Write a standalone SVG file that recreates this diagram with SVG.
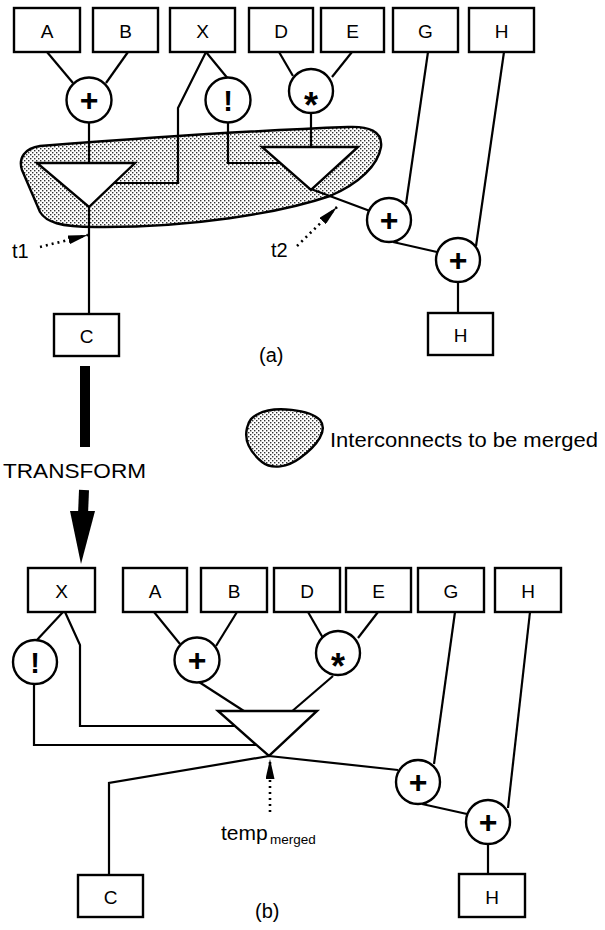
<svg xmlns="http://www.w3.org/2000/svg" width="605" height="930" viewBox="0 0 605 930">
<defs>
<pattern id="dots" width="4" height="4" patternUnits="userSpaceOnUse">
<rect width="4" height="4" fill="#fff"/>
<rect x="0" y="0" width="1.4" height="1.4" fill="#333"/>
<rect x="2" y="2" width="1.4" height="1.4" fill="#333"/>
</pattern>
<marker id="ah" viewBox="0 0 20 9" refX="20" refY="4.5" markerWidth="20" markerHeight="9" markerUnits="userSpaceOnUse" orient="auto"><path d="M0,0 L20,4.5 L0,9 Z" fill="#000"/></marker>
<style>
.box{fill:#fff;stroke:#000;stroke-width:2.4}
.op{fill:#fff;stroke:#000;stroke-width:2.4}
.tri{fill:#fff;stroke:#000;stroke-width:2.4;stroke-linejoin:miter}
.ln{fill:none;stroke:#000;stroke-width:2.2;stroke-linejoin:miter}
.dot{fill:none;stroke:#000;stroke-width:2.6;stroke-dasharray:2 4}
.blob{fill:url(#dots);stroke:#000;stroke-width:2.4}
.lbl{font-family:"Liberation Sans",Arial,sans-serif;font-size:19px;text-anchor:middle;fill:#000}
.sym{font-family:"Liberation Sans",Arial,sans-serif;font-weight:bold;text-anchor:middle;fill:#000}
.txt{font-family:"Liberation Sans",Arial,sans-serif;fill:#000}
</style>
</defs>
<rect width="605" height="930" fill="#fff"/>

<g id="merge-region">
<path class="blob" d="M40,146 C25,148 18,158 22,170 L40,212 C46,222 60,227 95,227 C190,228 280,213 330,196 C360,183 378,165 381,147 C383,131 368,126 348,127 C240,131 130,139 40,146 Z"/>
</g>

<g id="connectors">
<path class="ln" d="M47,52 L73,83"/>
<path class="ln" d="M128,52 L106,83"/>
<path class="ln" d="M89,122 L89,170"/>
<path class="ln" d="M206,52 L178,108 L178,183 L110,183"/>
<path class="ln" d="M206,52 L229,80"/>
<path class="ln" d="M228,122 L228,163 L290,163"/>
<path class="ln" d="M279,52 L293,76"/>
<path class="ln" d="M352,52 L332,77"/>
<path class="ln" d="M311,113 L311,150"/>
<path class="ln" d="M89,205 L89,314"/>
<path class="ln" d="M311,189 L370,211"/>
<path class="ln" d="M428,52 L406,204"/>
<path class="ln" d="M393,242 L437,252"/>
<path class="ln" d="M504,52 L476,246"/>
<path class="ln" d="M458,282 L458,313"/>

<path class="ln" d="M63,612 L36,641"/>
<path class="ln" d="M65,612 L80,645 L80,726 L240,726"/>
<path class="ln" d="M34,684 L34,745 L258,745"/>
<path class="ln" d="M154,612 L180,644"/>
<path class="ln" d="M237,612 L216,646"/>
<path class="ln" d="M199,682 L247,713"/>
<path class="ln" d="M308,612 L323,638"/>
<path class="ln" d="M378,612 L358,638"/>
<path class="ln" d="M333,676 L290,713"/>
<path class="ln" d="M269,756 L109,783 L109,875"/>
<path class="ln" d="M269,756 L398,770"/>
<path class="ln" d="M455,612 L434,764"/>
<path class="ln" d="M422,804 L467,814"/>
<path class="ln" d="M530,612 L508,808"/>
<path class="ln" d="M488,844 L488,874"/>

<path class="dot" d="M40,247 L88,235" marker-end="url(#ah)"/>
<path class="dot" d="M297,246 L337,207" marker-end="url(#ah)"/>
<path class="dot" d="M270,812 L270,759" marker-end="url(#ah)"/>

<path d="M85,366 L85,447" stroke="#000" stroke-width="10" fill="none"/>
<path d="M84,490 L83,515" stroke="#000" stroke-width="10" fill="none"/>
<polygon points="70,511 95,511 81,564" fill="#000"/>
</g>

<g id="a-A"><rect class="box" x="14" y="8" width="66" height="44"/><text class="lbl" x="47" y="38">A</text></g>
<g id="a-B"><rect class="box" x="93" y="8" width="65" height="44"/><text class="lbl" x="125.5" y="38">B</text></g>
<g id="a-X"><rect class="box" x="170" y="8" width="65" height="44"/><text class="lbl" x="202.5" y="38">X</text></g>
<g id="a-D"><rect class="box" x="249" y="8" width="64" height="44"/><text class="lbl" x="281" y="38">D</text></g>
<g id="a-E"><rect class="box" x="321" y="8" width="63" height="44"/><text class="lbl" x="352.5" y="38">E</text></g>
<g id="a-G"><rect class="box" x="393" y="8" width="65" height="44"/><text class="lbl" x="425.5" y="38">G</text></g>
<g id="a-H"><rect class="box" x="469" y="8" width="65" height="44"/><text class="lbl" x="501.5" y="38">H</text></g>
<g id="a-C"><rect class="box" x="54" y="314" width="65" height="42"/><text class="lbl" x="86.5" y="343">C</text></g>
<g id="a-Hout"><rect class="box" x="428" y="313" width="65" height="42"/><text class="lbl" x="460.5" y="342">H</text></g>

<g id="a-plus1"><circle class="op" cx="89" cy="100" r="22.5"/><text class="sym" x="89" y="111" font-size="32">+</text></g>
<g id="a-excl"><circle class="op" cx="228" cy="100" r="22.5"/><text class="sym" x="228" y="111" font-size="29">!</text></g>
<g id="a-star"><circle class="op" cx="311" cy="91" r="22"/><text class="sym" x="311" y="118" font-size="36">*</text></g>
<g id="a-plusG"><circle class="op" cx="389" cy="220" r="22"/><text class="sym" x="389" y="231" font-size="32">+</text></g>
<g id="a-plusH"><circle class="op" cx="458" cy="260" r="22"/><text class="sym" x="458" y="271" font-size="32">+</text></g>
<g id="a-t1node"><polygon class="tri" points="37,163 135,163 89,207"/></g>
<g id="a-t2node"><polygon class="tri" points="262,147 358,147 311,190"/></g>

<g id="b-X"><rect class="box" x="28" y="568" width="67" height="44"/><text class="lbl" x="61.5" y="598">X</text></g>
<g id="b-A"><rect class="box" x="123" y="568" width="64" height="44"/><text class="lbl" x="155" y="598">A</text></g>
<g id="b-B"><rect class="box" x="201" y="568" width="66" height="44"/><text class="lbl" x="234" y="598">B</text></g>
<g id="b-D"><rect class="box" x="274" y="568" width="66" height="44"/><text class="lbl" x="307" y="598">D</text></g>
<g id="b-E"><rect class="box" x="346" y="568" width="65" height="44"/><text class="lbl" x="378.5" y="598">E</text></g>
<g id="b-G"><rect class="box" x="418" y="568" width="66" height="44"/><text class="lbl" x="451" y="598">G</text></g>
<g id="b-H"><rect class="box" x="495" y="568" width="66" height="44"/><text class="lbl" x="528" y="598">H</text></g>
<g id="b-C"><rect class="box" x="78" y="875" width="65" height="42"/><text class="lbl" x="110.5" y="904">C</text></g>
<g id="b-Hout"><rect class="box" x="459" y="874" width="66" height="43"/><text class="lbl" x="492" y="904">H</text></g>

<g id="b-excl"><circle class="op" cx="35" cy="662" r="22"/><text class="sym" x="35" y="673" font-size="29">!</text></g>
<g id="b-plus"><circle class="op" cx="197" cy="660" r="22.5"/><text class="sym" x="197" y="671" font-size="32">+</text></g>
<g id="b-star"><circle class="op" cx="338" cy="653" r="22"/><text class="sym" x="338" y="679" font-size="36">*</text></g>
<g id="b-plusG"><circle class="op" cx="418" cy="782" r="22"/><text class="sym" x="418" y="793" font-size="32">+</text></g>
<g id="b-plusH"><circle class="op" cx="488" cy="822" r="22"/><text class="sym" x="488" y="833" font-size="32">+</text></g>
<g id="b-merged"><polygon class="tri" points="218,711 317,711 269,756"/></g>

<g id="legend">
<path class="blob" d="M258,414 C275,405 310,410 320,420 C328,430 318,445 300,458 C288,467 272,470 262,462 C250,452 244,440 247,428 C249,420 252,417 258,414 Z"/>
<text class="txt" x="330" y="447" font-size="21" textLength="268" lengthAdjust="spacingAndGlyphs">Interconnects to be merged</text>
</g>

<g id="labels">
<text class="txt" x="12" y="258" font-size="20">t1</text>
<text class="txt" x="271" y="257" font-size="20">t2</text>
<text class="txt" x="259" y="362" font-size="20">(a)</text>
<text class="txt" x="3" y="478" font-size="21" textLength="143" lengthAdjust="spacingAndGlyphs">TRANSFORM</text>
<text class="txt" x="221" y="840" font-size="21">temp<tspan x="270" y="844" font-size="13.5">merged</tspan></text>
<text class="txt" x="255" y="918" font-size="20">(b)</text>
</g>
</svg>
